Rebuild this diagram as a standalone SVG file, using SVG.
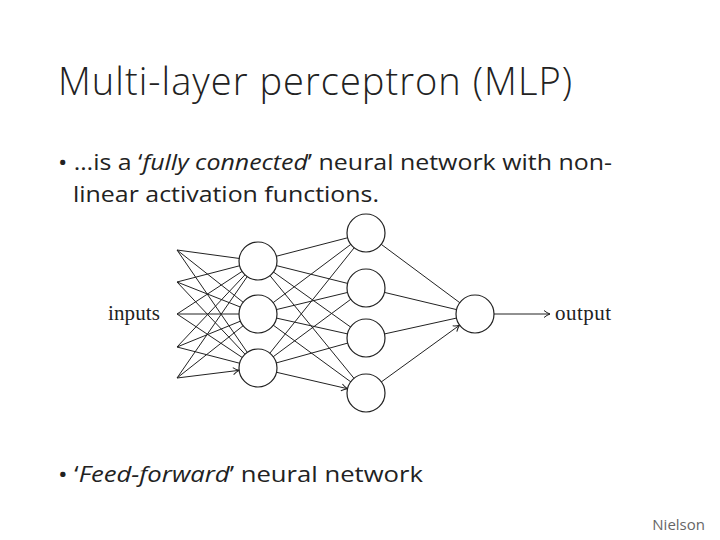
<svg xmlns="http://www.w3.org/2000/svg" width="720" height="540" viewBox="0 0 720 540">
<defs>
<marker id="a" markerUnits="userSpaceOnUse" markerWidth="60" markerHeight="20" viewBox="-30 -10 60 20" refX="0" refY="0" orient="auto" overflow="visible">
<path d="M-25,-3.5 Q-22,-1 -19,0 Q-22,1 -25,3.5" fill="none" stroke="#222" stroke-width="1"/>
</marker>
<marker id="b" markerUnits="userSpaceOnUse" markerWidth="20" markerHeight="20" viewBox="-10 -10 20 20" refX="0" refY="0" orient="auto" overflow="visible">
<path d="M-6,-3.5 Q-3,-1 0,0 Q-3,1 -6,3.5" fill="none" stroke="#222" stroke-width="1"/>
</marker>
</defs>
<style>
.e{stroke:#222;stroke-width:1;fill:none;marker-end:url(#a)}
.n{fill:#fff;stroke:#222;stroke-width:1.2}
.t{font-family:"Open Sans","Liberation Sans",sans-serif;fill:#222}
.s{font-family:"Liberation Serif",serif;font-size:21px;fill:#222}
</style>
<rect width="720" height="540" fill="#fff"/>
<text class="t" x="58" y="95" font-size="38" font-weight="300" textLength="514">Multi-layer perceptron (MLP)</text>
<text class="t" x="58" y="170" font-size="22" textLength="554" lengthAdjust="spacingAndGlyphs">• …is a ‘<tspan font-style="italic">fully connected</tspan>’ neural network with non-</text>
<text class="t" x="73" y="202" font-size="22" textLength="306" lengthAdjust="spacingAndGlyphs">linear activation functions.</text>
<text class="t" x="58" y="482" font-size="22" textLength="365" lengthAdjust="spacingAndGlyphs">• ‘<tspan font-style="italic">Feed-forward</tspan>’ neural network</text>
<text class="t" x="705" y="530" font-size="15" text-anchor="end" style="fill:#666">Nielson</text>
<text class="s" x="108" y="320" textLength="52">inputs</text>
<text class="s" x="555" y="320" textLength="56">output</text>
<g id="connectors">
<path class="e" d="M177,250L258,261M177,250L258,314M177,250L258,368M177,282L258,261M177,282L258,314M177,282L258,368M177,314L258,261M177,314L258,314M177,314L258,368M177,347L258,261M177,347L258,314M177,347L258,368M177,378L258,261M177,378L258,314M177,378L258,368"/>
<path class="e" d="M258,261L366,233M258,261L366,288M258,261L366,338M258,261L366,393M258,314L366,233M258,314L366,288M258,314L366,338M258,314L366,393M258,368L366,233M258,368L366,288M258,368L366,338M258,368L366,393"/>
<path class="e" d="M366,233L475,314M366,288L475,314M366,338L475,314M366,393L475,314"/>
<path d="M494,314L550,314" stroke="#222" stroke-width="1" fill="none" marker-end="url(#b)"/>
</g>
<g id="h1a"><circle class="n" cx="258" cy="261" r="19"/></g>
<g id="h1b"><circle class="n" cx="258" cy="314" r="19"/></g>
<g id="h1c"><circle class="n" cx="258" cy="368" r="19"/></g>
<g id="h2a"><circle class="n" cx="366" cy="233" r="19"/></g>
<g id="h2b"><circle class="n" cx="366" cy="288" r="19"/></g>
<g id="h2c"><circle class="n" cx="366" cy="338" r="19"/></g>
<g id="h2d"><circle class="n" cx="366" cy="393" r="19"/></g>
<g id="out"><circle class="n" cx="475" cy="314" r="19"/></g>
</svg>
